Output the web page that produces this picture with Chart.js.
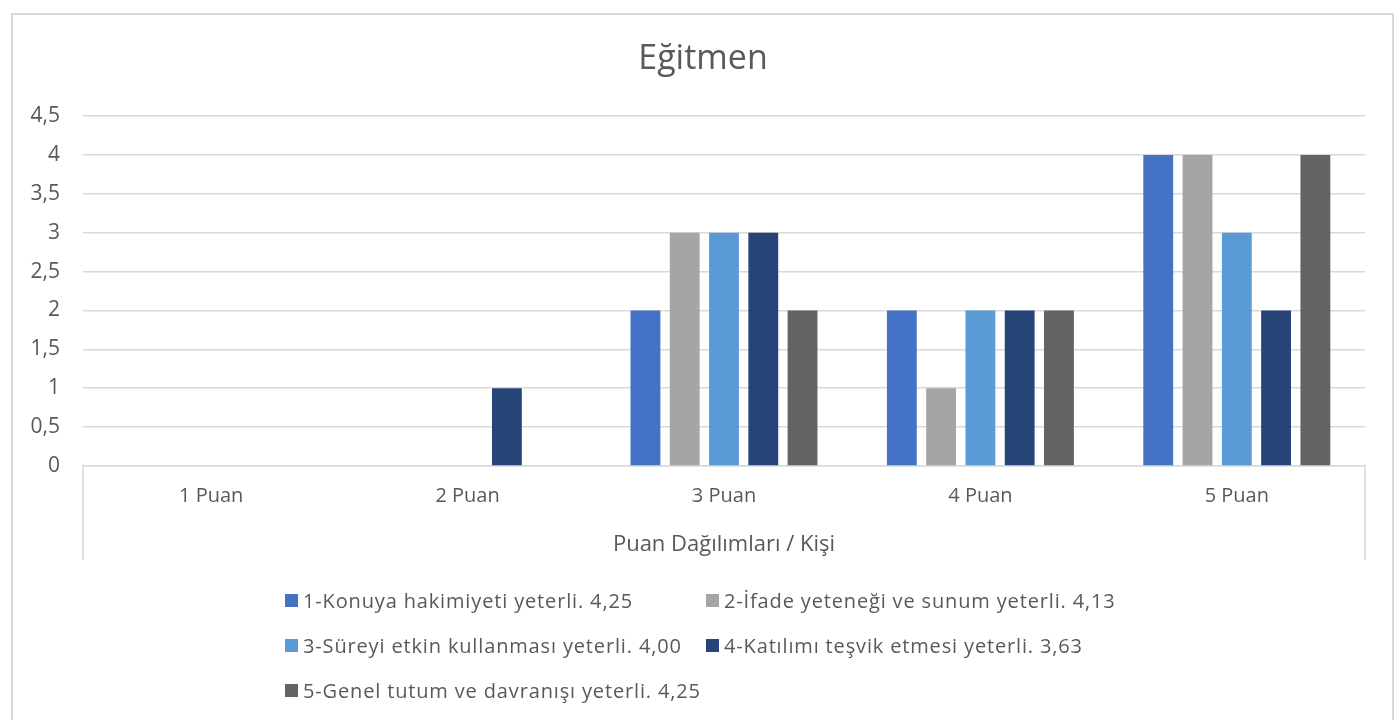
<!DOCTYPE html>
<html>
<head>
<meta charset="utf-8">
<script src="https://cdn.jsdelivr.net/npm/chart.js@4.4.1/dist/chart.umd.min.js"></script>
<style>
  html, body { margin: 0; padding: 0; background: #ffffff; }
  body { width: 1399px; height: 720px; overflow: hidden; position: relative; font-family: "Open Sans", sans-serif; }
  #frame { position: absolute; left: 11px; top: 13px; width: 1383px; height: 760px; border: 2px solid #d9d9d9; box-sizing: border-box; }
  #wrap { position: absolute; left: 0; top: 0; width: 1399px; height: 560px; }
  #legend { position: absolute; left: 0; top: 0; width: 1399px; height: 720px; pointer-events: none; }
  .item { position: absolute; display: flex; align-items: center; color: #595959; font-size: 20px; letter-spacing: 0.85px; white-space: nowrap; height: 26px; }
  .box { width: 13px; height: 13px; margin-right: 5px; flex: none; }
</style>
</head>
<body>
<div id="frame"></div>
<div id="wrap"><canvas id="c" width="1399" height="560"></canvas></div>
<div id="legend"></div>
<script>
const chartTitle = "Eğitmen";
const xAxisTitle = "Puan Dağılımları / Kişi";
const categories = ["1 Puan", "2 Puan", "3 Puan", "4 Puan", "5 Puan"];
const seriesNames = [
  "1-Konuya hakimiyeti yeterli. 4,25",
  "2-İfade yeteneği ve sunum yeterli. 4,13",
  "3-Süreyi etkin kullanması yeterli. 4,00",
  "4-Katılımı teşvik etmesi yeterli. 3,63",
  "5-Genel tutum ve davranışı yeterli. 4,25"
];
const series1 = [0, 0, 2, 2, 4];
const series2 = [0, 0, 3, 1, 4];
const series3 = [0, 0, 3, 2, 3];
const series4 = [0, 1, 3, 2, 2];
const series5 = [0, 0, 2, 2, 4];
const seriesColors = ["#4472C4", "#A5A5A5", "#5B9BD5", "#264478", "#636363"];
const yMin = 0, yMax = 4.5, yStep = 0.5;

const seriesValues = [series1, series2, series3, series4, series5];
const textColor = "#595959";
const gridColor = "#d9d9d9";
const FONT = "'Open Sans', sans-serif";

// frame lines below the category axis + chart title (centred on the chart frame)
const extras = {
  id: "extras",
  afterDraw(chart) {
    const { ctx, chartArea } = chart;
    ctx.save();
    ctx.strokeStyle = gridColor;
    ctx.lineWidth = 1.5;
    ctx.beginPath();
    ctx.moveTo(chartArea.left, chartArea.bottom);
    ctx.lineTo(chartArea.left, chartArea.bottom + 94);
    ctx.moveTo(chartArea.right, chartArea.bottom);
    ctx.lineTo(chartArea.right, chartArea.bottom + 94);
    ctx.stroke();
    ctx.fillStyle = textColor;
    ctx.font = "34px " + FONT;
    ctx.textAlign = "center";
    ctx.textBaseline = "middle";
    ctx.fillText(chartTitle, 703, 59);
    ctx.restore();
  }
};

const chart = new Chart(document.getElementById("c"), {
  type: "bar",
  data: {
    labels: categories,
    datasets: seriesValues.map((vals, i) => ({
      label: seriesNames[i],
      data: vals,
      backgroundColor: seriesColors[i],
      borderWidth: 0,
      categoryPercentage: 0.766,
      barPercentage: 0.76
    }))
  },
  options: {
    responsive: false,
    devicePixelRatio: 1,
    animation: false,
    layout: { padding: { left: 0, right: 34, top: 116, bottom: 0 } },
    plugins: {
      legend: { display: false },
      tooltip: { enabled: false },
      title: { display: false }
    },
    scales: {
      y: {
        min: yMin,
        max: yMax,
        afterFit(scale) { scale.width = 83; scale.paddingTop = 0; },
        ticks: {
          stepSize: yStep,
          color: textColor,
          padding: 23,
          font: { family: FONT, size: 21 },
          callback: (v) => String(v).replace(".", ",")
        },
        grid: { color: gridColor, lineWidth: 1.5, drawTicks: false },
        border: { display: false }
      },
      x: {
        afterFit(scale) { scale.height = 94; },
        ticks: {
          color: textColor,
          padding: 18,
          font: { family: FONT, size: 20 }
        },
        grid: { display: false, drawTicks: false },
        border: { display: true, color: gridColor, width: 1.5 },
        title: {
          display: true,
          text: xAxisTitle,
          color: textColor,
          font: { family: FONT, size: 22 },
          padding: { top: 24, bottom: 2 }
        }
      }
    }
  },
  plugins: [extras]
});

// HTML legend built from the series arrays
const legendPos = [[285, 600], [706, 600], [285, 645], [706, 645], [285, 690]];
const legendEl = document.getElementById("legend");
seriesNames.forEach((name, i) => {
  const it = document.createElement("div");
  it.className = "item";
  it.style.left = legendPos[i][0] + "px";
  it.style.top = (legendPos[i][1] - 13) + "px";
  const b = document.createElement("span");
  b.className = "box";
  b.style.background = seriesColors[i];
  const t = document.createElement("span");
  t.textContent = name;
  it.appendChild(b);
  it.appendChild(t);
  legendEl.appendChild(it);
});
</script>
</body>
</html>
